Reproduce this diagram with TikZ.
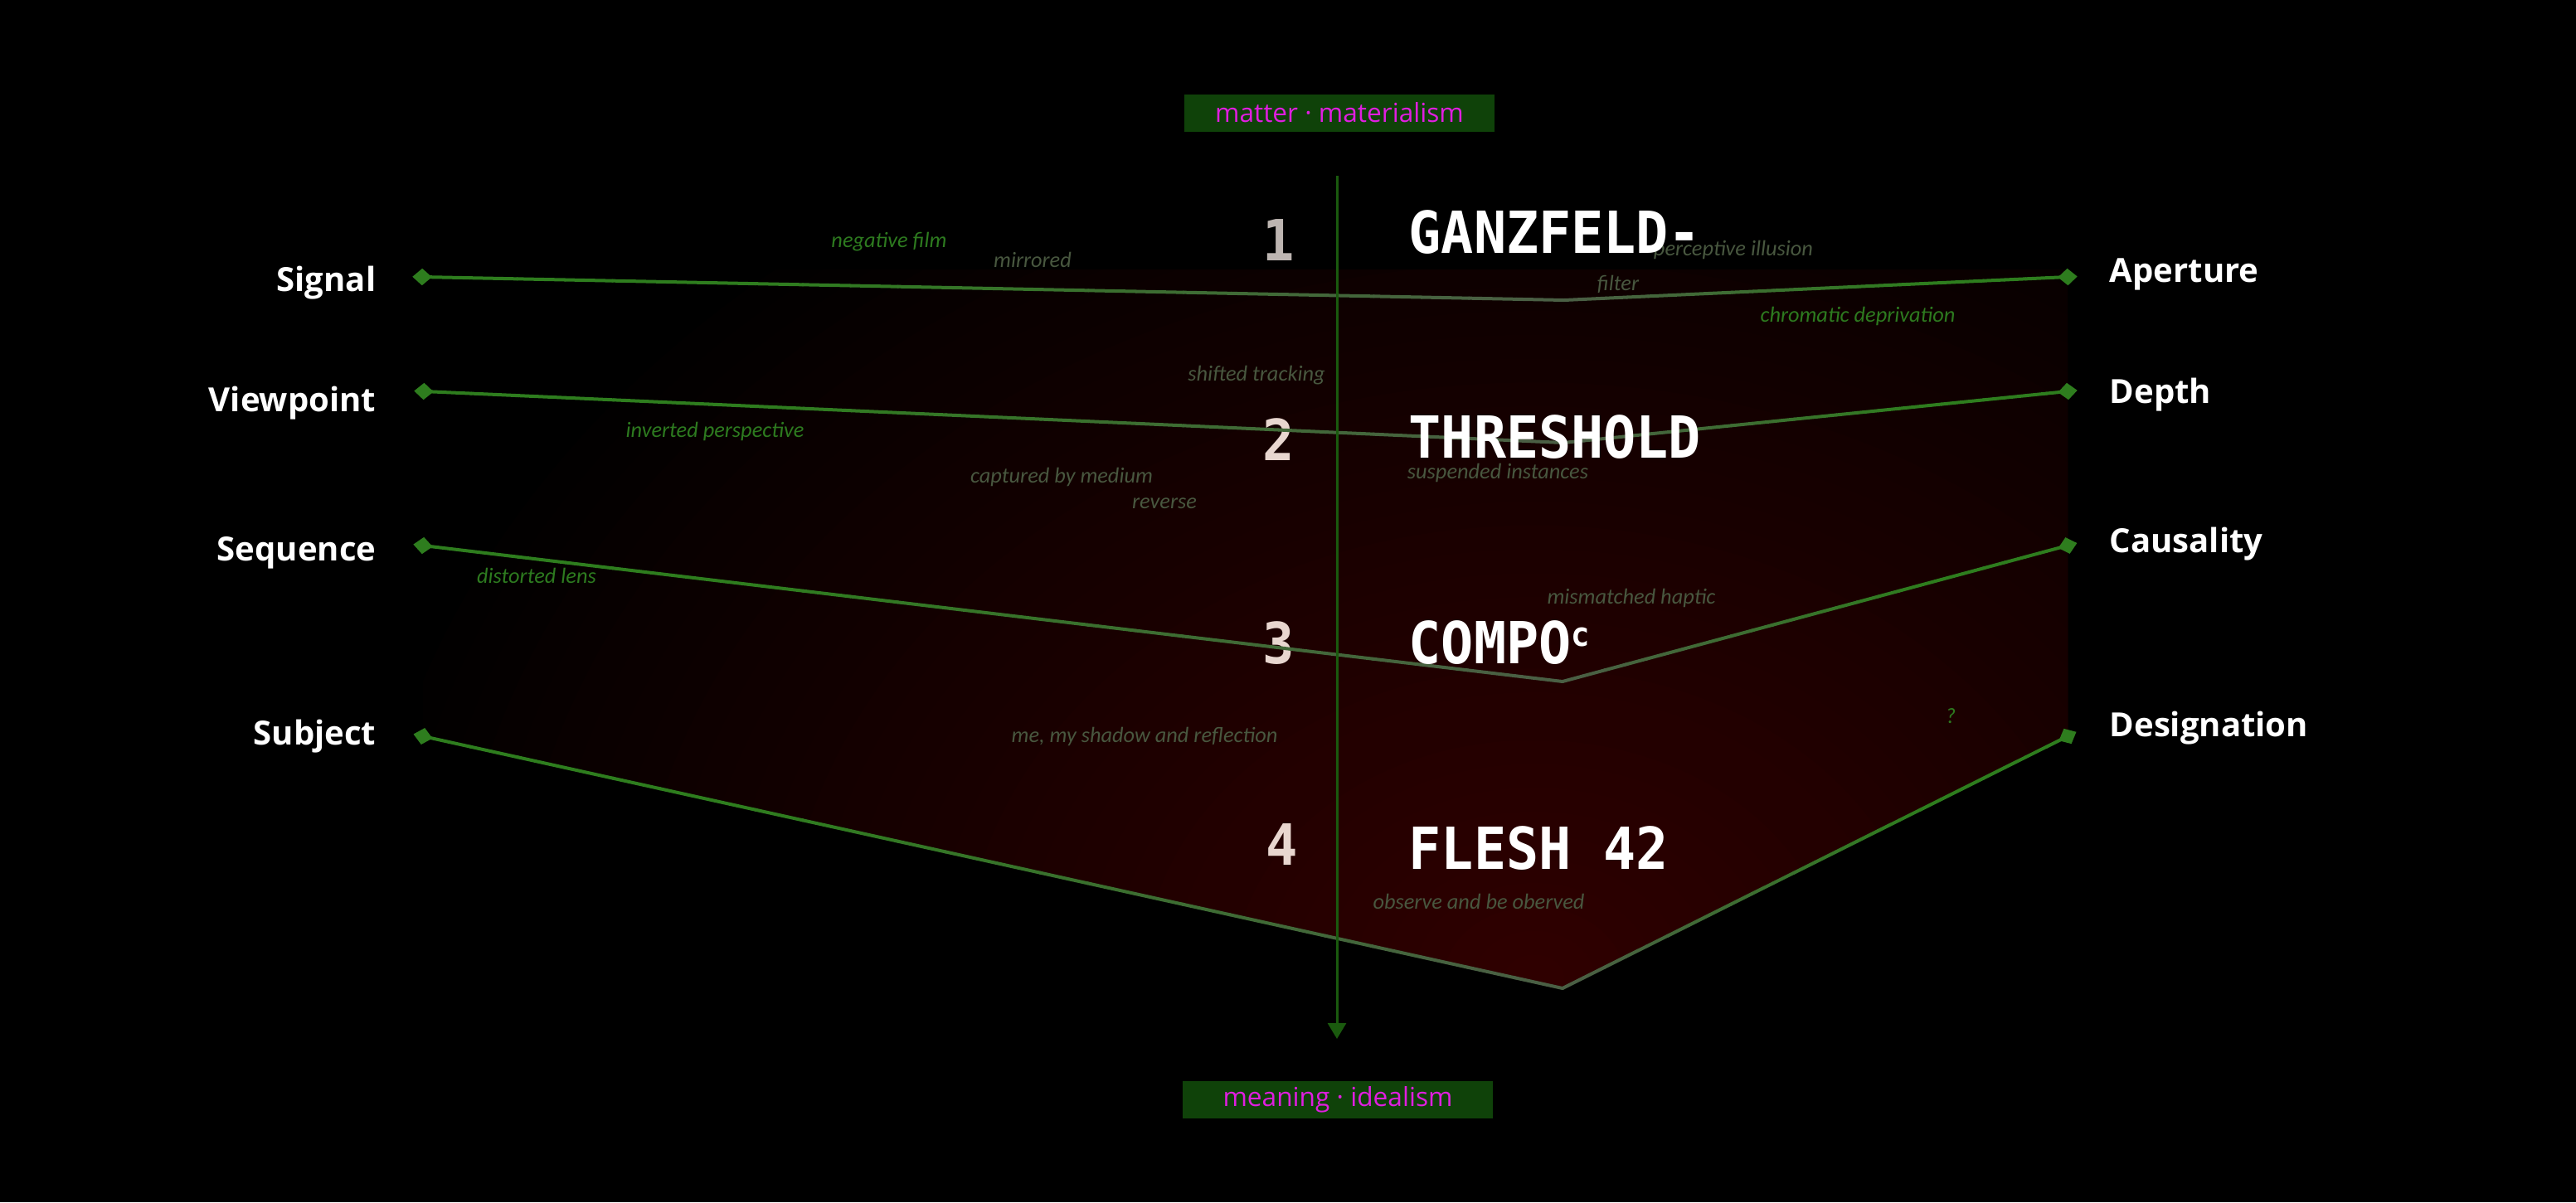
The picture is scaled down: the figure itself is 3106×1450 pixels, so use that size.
\documentclass[tikz,border=0pt]{standalone}
\usepackage{fontspec}
\setmainfont{Open Sans}
\newfontfamily\carl{Carlito}
\newfontfamily\monof[FakeStretch=0.93]{DejaVu Sans Mono}
\usetikzlibrary{arrows.meta,calc,shapes.geometric}
\definecolor{bright}{HTML}{2E7D1E}
\definecolor{dull}{HTML}{4B5E45}
\definecolor{axisg}{HTML}{1A5A0E}
\definecolor{boxg}{HTML}{0F4209}
\definecolor{mag}{HTML}{E01EE0}
\definecolor{glowA}{HTML}{300000}
\definecolor{numg}{HTML}{BDB5B1}
\definecolor{nump}{HTML}{E8D6CF}
\definecolor{smallbright}{HTML}{2D7A1F}
\definecolor{smalldull}{HTML}{48573F}
\tikzset{
  lbl/.style={text=white, font=\fontsize{11.4}{13}\selectfont\bfseries, inner sep=0},
  lblL/.style={lbl, anchor=base east},
  lblR/.style={lbl, anchor=base west},
  bigword/.style={text=white, font=\monof\bfseries\fontsize{19.9}{22}\selectfont, inner sep=0, anchor=base west},
  bignum/.style={font=\monof\bfseries\fontsize{19.5}{22}\selectfont, inner sep=0, anchor=base east},
  smallnote/.style={font=\carl\itshape\fontsize{7.5}{9}\selectfont, inner sep=0, anchor=base},
  notebright/.style={smallnote, text=smallbright},
  notedull/.style={smallnote, text=smalldull},
  capbox/.style={fill=boxg, text=mag, font=\fontsize{9}{10}\selectfont, minimum width=37.4mm, minimum height=4.5mm, inner sep=0},
  dmd/.style={diamond, fill=bright, inner sep=0, minimum width=2.4mm, minimum height=2.1mm}
}
\newcommand\gradline[2]{%
  \foreach \i in {0,...,23}{%
    \pgfmathsetmacro\ta{\i/24}%
    \pgfmathsetmacro\tb{(\i+1)/24}%
    \pgfmathtruncatemacro\pp{max(0,min(100,(1-(\i+0.5)/24)/0.7*100))}%
    \draw[line width=0.4mm, line cap=round, draw=bright!\pp!dull] ($(#1)!\ta!(#2)$) -- ($(#1)!\tb!(#2)$);
  }}
\begin{document}
\begin{tikzpicture}[x=0.1mm,y=-0.1mm]
\useasboundingbox (0,0) rectangle (3106,1450);
\fill[black] (0,0) rectangle (3106,1450);

% anchor coordinates
\coordinate (dL1) at (509,334);
\coordinate (dL2) at (511,472);
\coordinate (dL3) at (510,658);
\coordinate (dL4) at (510,888);
\coordinate (dR1) at (2493,334);
\coordinate (dR2) at (2493,472);
\coordinate (dR3) at (2493,658);
\coordinate (dR4) at (2493,888);
\coordinate (v1) at (1886,362);
\coordinate (v2) at (1885,534);
\coordinate (v3) at (1884,822);
\coordinate (v4) at (1884,1192);

% red glow (concentric ellipses)
\begin{scope}
  \clip (509,325) -- (2493,325) -- (dR4) -- (v4) -- (dL4) -- cycle;
  \foreach \k in {0,...,39}{%
    \pgfmathsetmacro\sc{1-\k/40}%
    \pgfmathtruncatemacro\pc{100*(\k/40)^0.9}%
    \fill[glowA!\pc!black] (1850,1180) ellipse ({1450*\sc} and {1150*\sc});
  }
\end{scope}

% small notes
\node[notebright] (n1) at (1072,298) {negative film};
\node[notedull] (n2) at (1245,322) {mirrored};
\node[notedull] (n3) at (2090,308) {perceptive illusion};
\node[notedull] (n4) at (1951,350) {filter};
\node[notebright] (n5) at (2240,388) {chromatic deprivation};
\node[notedull] (n6) at (1515,459) {shifted tracking};
\node[notebright] (n7) at (862,527) {inverted perspective};
\node[notedull] (n8) at (1280,582) {captured by medium};
\node[notedull] (n9) at (1404,613) {reverse};
\node[notedull] (n10) at (1806,577) {suspended instances};
\node[notebright] (n11) at (647,703) {distorted lens};
\node[notedull] (n12) at (1967,728) {mismatched haptic};
\node[notedull] (n13) at (1380,895) {me, my shadow and reflection};
\node[notebright] (n14) at (2352,872) {?};
\node[notedull] (n15) at (1783,1096) {observe and be oberved};

% numbers
\node[bignum, text=numg] (k1) at (1562,314) {1};
\node[bignum, text=nump] (k2) at (1562,555) {2};
\node[bignum, text=nump] (k3) at (1562,800) {3};
\node[bignum, text=nump] (k4) at (1566,1043) {4};

% chevron lines
\gradline{dL1}{v1}\gradline{dR1}{v1}
\gradline{dL2}{v2}\gradline{dR2}{v2}
\gradline{dL3}{v3}\gradline{dR3}{v3}
\gradline{dL4}{v4}\gradline{dR4}{v4}

% axis
\node[capbox] (top) at (1615,136) {matter · materialism};
\node[capbox] (bot) at (1613,1326) {meaning · idealism};
\coordinate (axtop) at (1612,212);
\coordinate (axbot) at (1612,1253);
\draw[axisg, line width=0.3mm, -{Triangle[width=2.2mm,length=1.9mm]}] (axtop) -- (axbot);

% words
\node[bigword] (w1) at (1698,305) {GANZFELD-};
\node[bigword] (w2) at (1698,552) {THRESHOLD};
\node[bigword] (w3) at (1698,800) {COMPO{\fontsize{11.4}{12}\selectfont\raisebox{2.1mm}{c}}};
\node[bigword] (w4) at (1698,1048) {FLESH 42};

% diamonds
\node[dmd, rotate=-1.1] (mL1) at (dL1) {};
\node[dmd, rotate=-2.5] (mL2) at (dL2) {};
\node[dmd, rotate=-6.6] (mL3) at (dL3) {};
\node[dmd, rotate=-12.4] (mL4) at (dL4) {};
\node[dmd, rotate=2.5] (mR1) at (dR1) {};
\node[dmd, rotate=5.6] (mR2) at (dR2) {};
\node[dmd, rotate=14.7] (mR3) at (dR3) {};
\node[dmd, rotate=26.5] (mR4) at (dR4) {};

% labels
\node[lblL] (Signal) at (454,351) {Signal};
\node[lblL] (Viewpoint) at (454,496) {Viewpoint};
\node[lblL] (Sequence) at (454,676) {Sequence};
\node[lblL] (Subject) at (454,898) {Subject};
\node[lblR] (Aperture) at (2543,340) {Aperture};
\node[lblR] (Depth) at (2543,486) {Depth};
\node[lblR] (Causality) at (2543,666) {Causality};
\node[lblR] (Designation) at (2543,888) {Designation};
\end{tikzpicture}
\end{document}
